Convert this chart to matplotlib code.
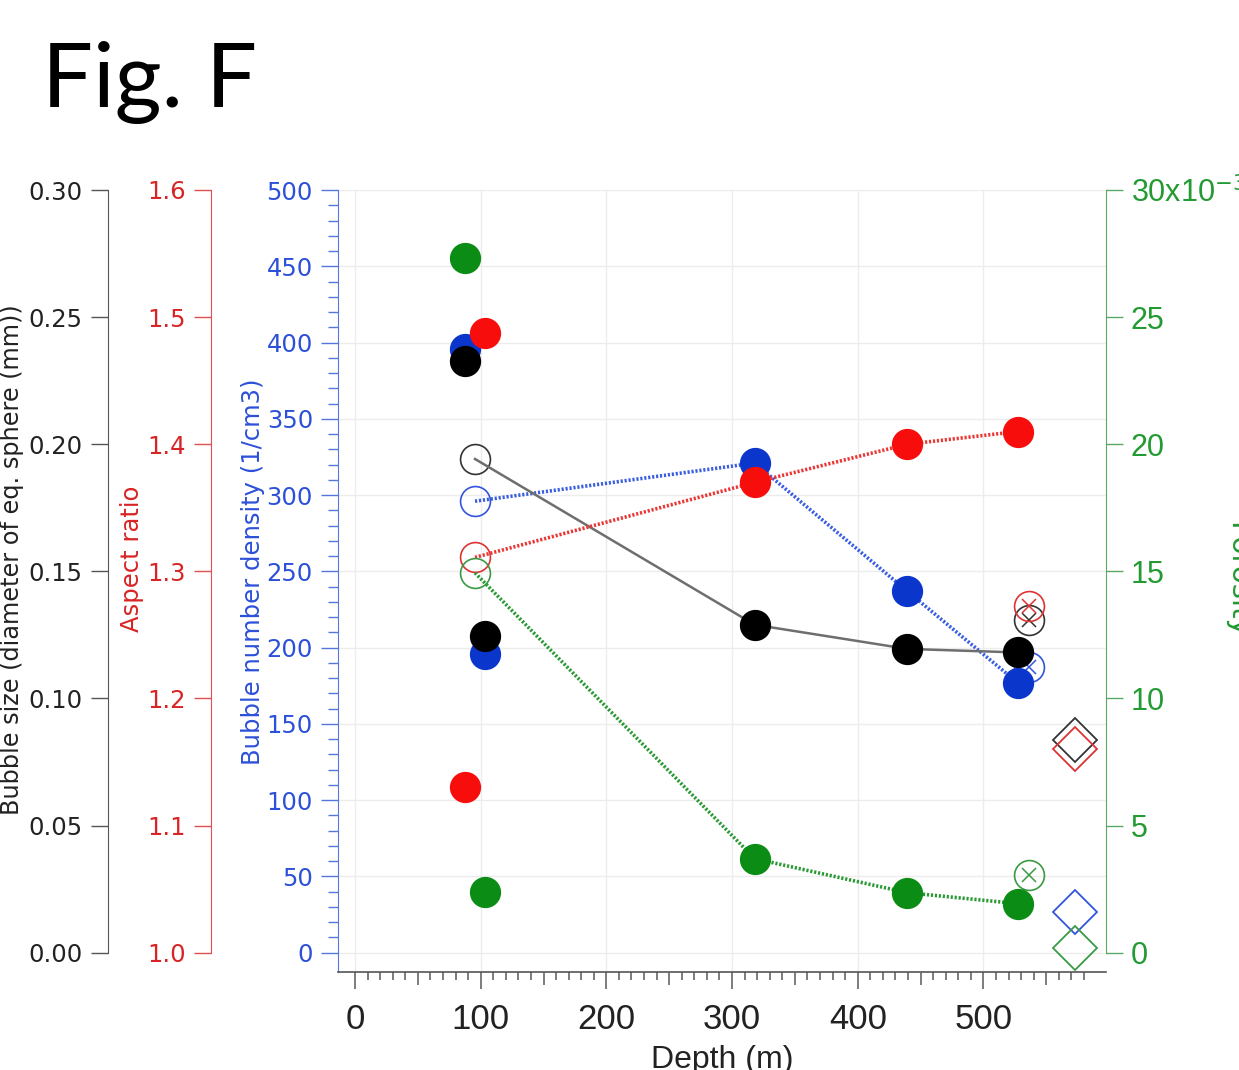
import matplotlib
matplotlib.use("Agg")
import matplotlib.pyplot as plt
from matplotlib.ticker import FixedLocator, FuncFormatter, FormatStrFormatter

# ---------------- data ----------------
# filled circles
depth_filled = [87.5, 103.4, 318, 439.4, 527.2]
density_filled = [396, 196, 321, 237, 177]          # 1/cm3
aspect_filled = [1.130, 1.4875, 1.370, 1.400, 1.410]
size_filled = [0.2329, 0.1247, 0.1290, 0.1195, 0.1181]  # mm
porosity_filled = [0.02733, 0.0024, 0.0037, 0.00236, 0.00193]

# open circles (start of connecting lines)
depth_open = 95.5
density_open = 296
aspect_open = 1.311
size_open = 0.1942
porosity_open = 0.01494

# open circles with cross
depth_cross = 536
density_cross = 187.5
aspect_cross = 1.273
size_cross = 0.131
porosity_cross = 0.00307

# diamonds
depth_diamond = 573
density_diamond = 26.4
aspect_diamond = 1.160
size_diamond = 0.0838
porosity_diamond = 0.000185

# indices of filled points joined by line (after open circle)
line_idx = [2, 3, 4]

# ---------------- style ----------------
W, H = 1239, 1070
fig = plt.figure(figsize=(W / 100, H / 100), dpi=100)


def fx(px):
    return px / W


def fy(py):
    return 1 - py / H


NARROW = ["Liberation Sans", "DejaVu Sans"]

BLUE_T = "#2c50d8"
BLUE_M = "#0a36cc"
RED_T = "#d82424"
RED_M = "#f80d0d"
GREEN_T = "#239a32"
GREEN_M = "#0b8c14"
BLACK_T = "#222222"
GRID = "#ececec"

ax = fig.add_axes([fx(338), fy(972), fx(1106) - fx(338), fy(190) - fy(972)])
frac = -12.65 / 500.0
ax.set_xlim(-13.5, 597.5)
ax.set_ylim(frac * 500, 500)

ax_k = ax.twinx()
ax_k.set_ylim(frac * 0.3, 0.3)
ax_r = ax.twinx()
ax_r.set_ylim(1 + frac * 0.6, 1.6)
ax_g = ax.twinx()
ax_g.set_ylim(frac * 0.03, 0.03)

# ----- main (blue) axis -----
for s in ["top", "right"]:
    ax.spines[s].set_visible(False)
ax.spines["left"].set_color("#5577dd")
ax.spines["bottom"].set_color("#555555")
ax.spines["bottom"].set_linewidth(1.2)
ax.yaxis.set_major_locator(FixedLocator(list(range(0, 501, 50))))
ax.yaxis.set_minor_locator(FixedLocator([v for v in range(0, 501, 10) if v % 50]))
ax.tick_params(axis="y", which="major", direction="out", length=12, width=1,
               color="#5577dd", labelcolor=BLUE_T, labelsize=17.5, pad=6)
ax.tick_params(axis="y", which="minor", direction="out", length=7, width=1,
               color="#5577dd")
ax.xaxis.set_major_locator(FixedLocator(list(range(0, 501, 100))))
ax.xaxis.set_minor_locator(FixedLocator([v for v in range(10, 581, 10) if v % 50]))
ax.tick_params(axis="x", which="major", direction="out", length=12, width=1.2,
               color="#666666", labelcolor=BLACK_T, labelsize=25, pad=10)
ax.tick_params(axis="x", which="minor", direction="out", length=5.5, width=1.2,
               color="#666666")
for lab in ax.get_xticklabels():
    lab.set_family(NARROW)
ax.grid(True, which="major", color=GRID, linewidth=1)
ax.set_axisbelow(True)

# medium ticks at 50s
ax_m = ax.twiny()
ax_m.set_xlim(ax.get_xlim())
for s in ax_m.spines.values():
    s.set_visible(False)
ax_m.xaxis.set_ticks_position("bottom")
ax_m.xaxis.set_major_locator(FixedLocator(list(range(50, 551, 100))))
ax_m.tick_params(axis="x", which="major", direction="out", length=9, width=1.2,
                 color="#666666", labelbottom=False, labeltop=False)

# ----- black axis -----
for s in ["top", "bottom", "right"]:
    ax_k.spines[s].set_visible(False)
ax_k.spines["left"].set_visible(True)
ax_k.spines["left"].set_position(("axes", (107.7 - 338) / 768))
ax_k.spines["left"].set_bounds(0, 0.3)
ax_k.spines["left"].set_color("#555555")
ax_k.yaxis.set_ticks_position("left")
ax_k.yaxis.set_major_locator(FixedLocator([0, 0.05, 0.10, 0.15, 0.20, 0.25, 0.30]))
ax_k.yaxis.set_major_formatter(FormatStrFormatter("%.2f"))
ax_k.tick_params(axis="y", direction="out", length=12, width=1, color="#555555",
                 labelcolor=BLACK_T, labelsize=17.5, pad=6)

# ----- red axis -----
for s in ["top", "bottom", "right"]:
    ax_r.spines[s].set_visible(False)
ax_r.spines["left"].set_visible(True)
ax_r.spines["left"].set_position(("axes", (211 - 338) / 768))
ax_r.spines["left"].set_bounds(1.0, 1.6)
ax_r.spines["left"].set_color("#e05050")
ax_r.yaxis.set_ticks_position("left")
ax_r.yaxis.set_major_locator(FixedLocator([1.0, 1.1, 1.2, 1.3, 1.4, 1.5, 1.6]))
ax_r.yaxis.set_major_formatter(FormatStrFormatter("%.1f"))
ax_r.tick_params(axis="y", direction="out", length=12, width=1, color="#e05050",
                 labelcolor=RED_T, labelsize=17.5, pad=6)

# ----- green axis -----
for s in ["top", "bottom", "left"]:
    ax_g.spines[s].set_visible(False)
ax_g.spines["right"].set_bounds(0, 0.03)
ax_g.spines["right"].set_color("#5aaa66")
ax_g.yaxis.set_major_locator(FixedLocator([0, 0.005, 0.010, 0.015, 0.020, 0.025, 0.030]))


def gfmt(v, pos):
    n = int(round(v * 1000))
    if n == 30:
        return "30x10$^{-3}$"
    return f"{n}"


ax_g.yaxis.set_major_formatter(FuncFormatter(gfmt))
ax_g.tick_params(axis="y", direction="out", length=12, width=1, color="#5aaa66",
                 labelcolor=GREEN_T, labelsize=22, pad=6)
for lab in ax_g.get_yticklabels():
    lab.set_family(NARROW)

# ---------------- data plotting ----------------
MS = 21.5
DOT = (0, (0.6, 0.5))


def draw(axis, fvals, oval, cval, dval, lcolor, mcolor, ocolor, lstyle, lw):
    xs = [depth_open] + [depth_filled[i] for i in line_idx]
    ys = [oval] + [fvals[i] for i in line_idx]
    axis.plot(xs, ys, color=lcolor, linestyle=lstyle, linewidth=lw, zorder=2)
    axis.plot([depth_open], [oval], marker="o", ms=MS, mfc="none", mec=ocolor,
              mew=1.2, linestyle="none", zorder=1)
    axis.plot([depth_cross], [cval], marker="o", ms=MS, mfc="none", mec=ocolor,
              mew=1.2, linestyle="none", zorder=1)
    axis.plot([depth_cross], [cval], marker="x", ms=10, mec=ocolor,
              mew=1.1, linestyle="none", zorder=1)
    axis.plot([depth_diamond], [dval], marker="D", ms=22, mfc="none", mec=ocolor,
              mew=1.3, linestyle="none", zorder=1)
    axis.plot(depth_filled, fvals, marker="o", ms=MS, mfc=mcolor, mec=mcolor,
              linestyle="none", zorder=3)


draw(ax, density_filled, density_open, density_cross, density_diamond,
     "#3a5ee0", BLUE_M, "#3355dd", DOT, 2.6)
draw(ax_k, size_filled, size_open, size_cross, size_diamond,
     "#6e6e6e", "#000000", "#333333", "-", 1.8)
draw(ax_r, aspect_filled, aspect_open, aspect_cross, aspect_diamond,
     "#ec3636", RED_M, "#dd3333", DOT, 2.6)
draw(ax_g, porosity_filled, porosity_open, porosity_cross, porosity_diamond,
     "#2a9a34", GREEN_M, "#3a9a44", DOT, 2.6)

# ---------------- labels ----------------
fig.text(fx(12), fy(560), "Bubble size (diameter of eq. sphere (mm))", rotation=90,
         ha="center", va="center", fontsize=17.3, color=BLACK_T)
fig.text(fx(132), fy(559), "Aspect ratio", rotation=90, ha="center", va="center",
         fontsize=17.5, color=RED_T)
fig.text(fx(253), fy(572), "Bubble number density (1/cm3)", rotation=90,
         ha="center", va="center", fontsize=17.5, color=BLUE_T)
fig.text(fx(1223), fy(580), "Porosity", rotation=-90, ha="left", va="center",
         fontsize=21, color=GREEN_T)
fig.text(fx(722), fy(1045), "Depth (m)", ha="center", va="top", fontsize=23,
         color=BLACK_T, family=NARROW)
fig.text(fx(42), fy(107), "Fig. F", ha="left", va="baseline", fontsize=65,
         family="Lato", color="#000000")

fig.savefig("out.png", dpi=100)
